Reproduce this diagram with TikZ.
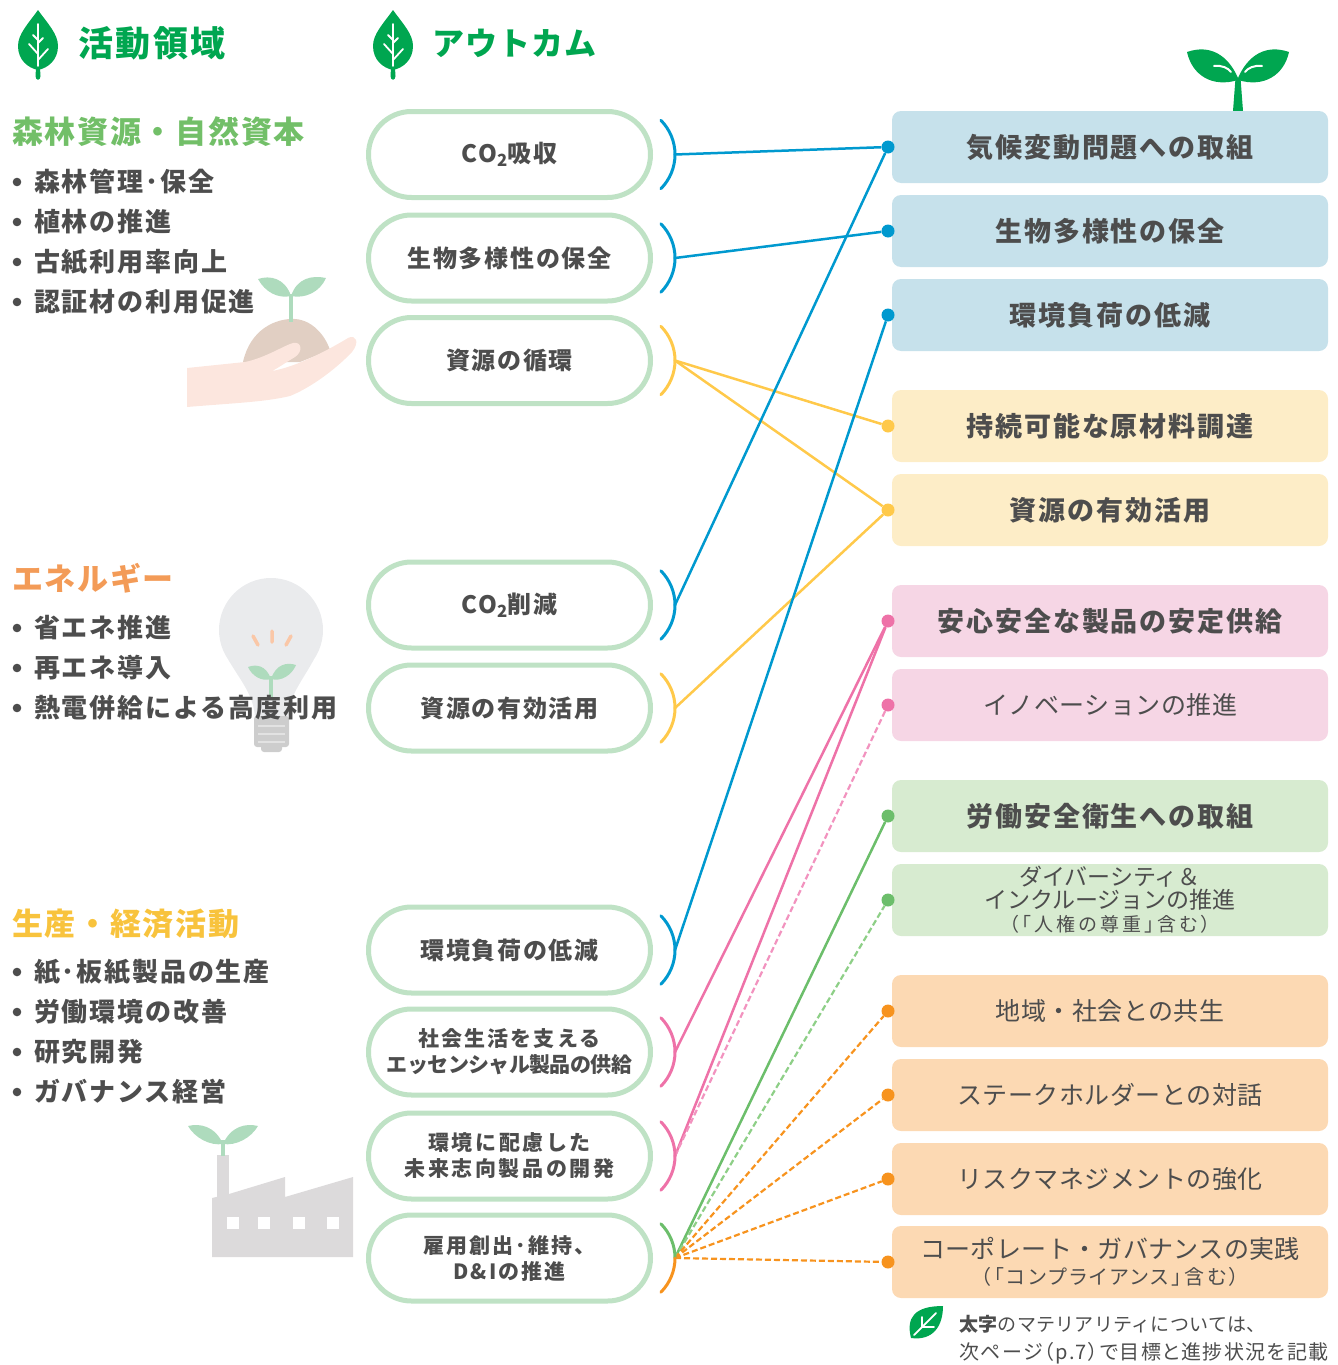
\documentclass[tikz,border=0pt]{standalone}
\usepackage{fontspec}
\setmainfont{Noto Sans CJK JP}
\usetikzlibrary{shapes.misc}

\definecolor{leafgreen}{HTML}{00A650}
\definecolor{ink}{HTML}{4D4D4D}
\definecolor{pillline}{HTML}{BFE2C5}
\definecolor{cblue}{HTML}{0099CF}
\definecolor{cyellow}{HTML}{FFC94A}
\definecolor{cpink}{HTML}{EE72A8}
\definecolor{cpinklt}{HTML}{F293BF}
\definecolor{cgreen}{HTML}{6CBE6B}
\definecolor{cgreenlt}{HTML}{8ECF87}
\definecolor{corange}{HTML}{F7931E}
\definecolor{fblue}{HTML}{C6E1EB}
\definecolor{fyellow}{HTML}{FDEDC7}
\definecolor{fpink}{HTML}{F6D6E5}
\definecolor{fgreen}{HTML}{D7EBD0}
\definecolor{forange}{HTML}{FCD9B3}
\definecolor{hforest}{HTML}{72BF68}
\definecolor{henergy}{HTML}{F39B57}
\definecolor{hprod}{HTML}{F8C33D}
\definecolor{sprout}{HTML}{AEDBBD}
\definecolor{soil}{HTML}{E1CFC3}
\definecolor{palm}{HTML}{FCE6DE}
\definecolor{bulb}{HTML}{EAEBED}
\definecolor{bulbbase}{HTML}{CDCDCD}
\definecolor{bulbline}{HTML}{E2E2E2}
\definecolor{ray}{HTML}{FAC7A7}
\definecolor{plant}{HTML}{DCDADB}

% size, baselineskip, letter spacing
\newcommand\fs[3]{\fontsize{#1}{#2}\selectfont\addfontfeature{LetterSpace=#3}}
% proportional punctuation and kana
\newcommand\prop{\addfontfeature{RawFeature=+palt}}

% bracket beside a pill: #1 y, #2 upper colour, #3 lower colour
\newcommand\brk[3]{%
  \draw[brack,#2] (660.9,#1-34.2) .. controls (669.9,#1-25.1) and (675,#1-12.8) .. (675,#1);
  \draw[brack,#3] (675,#1) .. controls (675,#1+12.8) and (669.9,#1+25.1) .. (660.9,#1+34.2);
}

% leaf emblem, apex at #1,#2
\newcommand\hleaf[2]{%
  \begin{scope}[shift={(#1,#2)}]
    \fill[leafgreen] (0,0) .. controls (10,14) and (20,24) .. (20,36)
      .. controls (20,50) and (10,58) .. (0,60)
      .. controls (-10,58) and (-20,50) .. (-20,36)
      .. controls (-20,24) and (-10,14) .. (0,0);
    \fill[leafgreen] (-2,58) -- (2,58) -- (2.5,66) .. controls (2.5,71) and (-2.5,71) .. (-2.5,66) -- cycle;
    \draw[white,line width=1.8pt,line cap=round] (0,14) -- (0,56)
      (0,44) -- (-9,34) (0,50) -- (10,39) (0,30) -- (-5,25) (0,33) -- (5,28);
  \end{scope}
}

\tikzset{
  pill/.style={rounded rectangle, draw=pillline, line width=5pt, fill=white,
    minimum width=282pt, minimum height=86pt, inner sep=0pt, align=center,
    text=ink, font=\bfseries\fs{24}{28}{7}},
  pilltwo/.style={pill, font=\bfseries\fs{21}{26}{10}},
  outbox/.style={rounded corners=9pt, minimum width=436pt, minimum height=72pt,
    inner sep=0pt, align=center, text=ink},
  outbold/.style={outbox, font=\bfseries\fs{27}{30}{7}},
  outreg/.style={outbox, font=\fs{25}{28}{2}},
  dotn/.style={circle, inner sep=0pt, minimum size=13pt},
  link/.style={line width=2.5pt},
  dashlink/.style={line width=2.2pt, dash pattern=on 6pt off 3pt},
  brack/.style={line width=3pt, line cap=round},
  headline/.style={anchor=west, inner sep=0pt, text=leafgreen},
  section/.style={anchor=west, inner sep=0pt, font=\bfseries\fs{31}{34}{5.5}},
  item/.style={anchor=west, inner sep=0pt, text=ink, font=\bfseries\fs{26}{28}{7}},
}

\begin{document}
\begin{tikzpicture}[x=1pt,y=-1pt]
\useasboundingbox (0,0) rectangle (1338,1365);

% ---------- illustrations ----------
% hand holding a sprouting seed
\fill[soil] (243,362) .. controls (250,330) and (275,318) .. (295,319)
  .. controls (312,320) and (325,335) .. (330,350) -- (300,362) -- cycle;
\draw[sprout,line width=4pt] (291,294) -- (291,322);
\fill[sprout] (291,296) .. controls (285,278) and (270,275) .. (258,279)
  .. controls (265,292) and (278,299) .. (291,296);
\fill[sprout] (291,296) .. controls (297,278) and (312,275) .. (326,278)
  .. controls (320,292) and (305,299) .. (291,296);
\fill[palm] (187,368) -- (245,362) .. controls (265,358) and (285,345) .. (293,343)
  .. controls (302,341) and (303,352) .. (295,357)
  .. controls (285,363) and (278,368) .. (272,371)
  .. controls (295,367) and (325,352) .. (348,338)
  .. controls (356,334) and (360,342) .. (352,352)
  .. controls (335,370) and (310,388) .. (290,396)
  .. controls (265,402) and (235,403) .. (187,407) -- cycle;

% light bulb with sprout
\fill[bulb] (271,630) circle[radius=52];
\fill[bulb] (228.5,660) .. controls (240,680) and (254,695) .. (255,718) -- (288,718)
  .. controls (289,695) and (303,680) .. (313.5,660) -- cycle;
\fill[bulbbase,rounded corners=3pt] (254,716) rectangle (289,747);
\fill[bulbbase,rounded corners=3pt] (261,744) rectangle (282,752);
\draw[bulbline,line width=2.5pt] (258,726) -- (285,726) (258,734) -- (285,734) (258,742) -- (285,742);
\draw[ray,line width=3.5pt,line cap=round] (253,636) -- (258,645) (272,631) -- (272,642) (291,636) -- (286,645);
\draw[sprout,line width=4pt] (271,676) -- (271,700);
\fill[sprout] (271,679) .. controls (266,665) and (256,664) .. (248,667)
  .. controls (252,676) and (262,682) .. (271,679);
\fill[sprout] (271,679) .. controls (276,664) and (287,662) .. (296,665)
  .. controls (292,675) and (281,682) .. (271,679);

% factory with sprout
\fill[plant] (217,1155) rectangle (229,1200);
\fill[plant] (212,1257) -- (212,1198) -- (229,1194) -- (285,1177) -- (285,1197)
  -- (353,1177) -- (353,1257) -- cycle;
\foreach \wx in {227,258,293,327}
  \fill[white] (\wx,1217) rectangle (\wx+12,1229);
\draw[sprout,line width=4pt] (223,1140) -- (223,1156);
\fill[sprout] (223,1144) .. controls (215,1126) and (200,1123) .. (188,1126)
  .. controls (195,1138) and (210,1146) .. (223,1144);
\fill[sprout] (223,1144) .. controls (231,1126) and (246,1123) .. (258,1126)
  .. controls (251,1138) and (236,1146) .. (223,1144);

% sprout above the outcome column
\fill[leafgreen] (1233,111) -- (1243,111) -- (1240.5,78) -- (1235.5,78) -- cycle;
\fill[leafgreen] (1238,78) .. controls (1228,55) and (1210,44) .. (1187,52)
  .. controls (1192,75) and (1212,88) .. (1238,80) -- cycle;
\fill[leafgreen] (1238,78) .. controls (1248,55) and (1266,44) .. (1289,52)
  .. controls (1284,75) and (1264,88) .. (1238,80) -- cycle;
\draw[white,line width=2pt,line cap=round] (1214,66) .. controls (1222,65) and (1228,68) .. (1231,72)
  (1262,66) .. controls (1254,65) and (1248,68) .. (1245,72);

% ---------- headings ----------
\hleaf{38}{10}
\node[headline,font=\bfseries\fs{35}{38}{7}] (hact) at (78,43) {活動領域};
\hleaf{393}{10}
\node[headline,font=\bfseries\fs{32}{36}{3}] (hout) at (432,43) {アウトカム};

% ---------- activity areas ----------
\foreach \yy in {182,222,262,302,628,668,708,972,1012,1052,1092}
  \fill[ink] (17,\yy) circle[radius=4.3];

\node[section,text=hforest] (s1) at (12,132) {森林資源・自然資本};
\node[item] (s1a) at (34,182) {森林管理･保全};
\node[item] (s1b) at (34,222) {植林の推進};
\node[item] (s1c) at (34,262) {古紙利用率向上};
\node[item] (s1d) at (34,302) {認証材の利用促進};

\node[section,text=henergy] (s2) at (12,578) {エネルギー};
\node[item] (s2a) at (34,628) {省エネ推進};
\node[item] (s2b) at (34,668) {再エネ導入};
\node[item] (s2c) at (34,708) {熱電併給による高度利用};

\node[section,text=hprod] (s3) at (12,924) {生産・経済活動};
\node[item] (s3a) at (34,972) {紙･板紙製品の生産};
\node[item] (s3b) at (34,1012) {労働環境の改善};
\node[item] (s3c) at (34,1052) {研究開発};
\node[item] (s3d) at (34,1092) {ガバナンス経営};

% ---------- outcome boxes ----------
\node[outbold,fill=fblue]   (o1)  at (1110,147)  {気候変動問題への取組};
\node[outbold,fill=fblue]   (o2)  at (1110,231)  {生物多様性の保全};
\node[outbold,fill=fblue]   (o3)  at (1110,315)  {環境負荷の低減};
\node[outbold,fill=fyellow] (o4)  at (1110,426)  {持続可能な原材料調達};
\node[outbold,fill=fyellow] (o5)  at (1110,510)  {資源の有効活用};
\node[outbold,fill=fpink]   (o6)  at (1110,621)  {安心安全な製品の安定供給};
\node[outreg,fill=fpink]    (o7)  at (1110,705)  {イノベーションの推進};
\node[outbold,fill=fgreen]  (o8)  at (1110,816)  {労働安全衛生への取組};
\node[outbox,fill=fgreen,font=\fs{23}{23}{0}] (o9) at (1110,900)
  {ダイバーシティ＆\\インクルージョンの推進\\{\fs{19}{23}{17}\prop（「人権の尊重」含む）}};
\node[outreg,fill=forange]  (o10) at (1110,1011) {地域・社会との共生};
\node[outreg,fill=forange]  (o11) at (1110,1095) {ステークホルダーとの対話};
\node[outreg,fill=forange]  (o12) at (1110,1179) {リスクマネジメントの強化};
\node[outbox,fill=forange,font=\fs{25}{26}{1.5}] (o13) at (1110,1262)
  {コーポレート・ガバナンスの実践\\{\fs{20}{26}{14}\prop（「コンプライアンス」含む）}};

% connection dots at the outcome boxes
\foreach \i/\yy/\cc in {1/147/cblue,2/231/cblue,3/315/cblue,4/426/cyellow,5/510/cyellow,
    6/621/cpink,7/705/cpink,8/816/cgreen,9/900/cgreen,10/1011/corange,
    11/1095/corange,12/1179/corange,13/1262/corange}
  \node[dotn,fill=\cc] (d\i) at (888,\yy) {};

% ---------- outcome pills ----------
\node[pill] (p1) at (509.5,154.5) {CO\textsubscript{2}吸収};
\node[pill] (p2) at (509.5,258) {生物多様性の保全};
\node[pill] (p3) at (509.5,360.5) {資源の循環};
\node[pill] (p4) at (509.5,605) {CO\textsubscript{2}削減};
\node[pill] (p5) at (509.5,708) {資源の有効活用};
\node[pill] (p6) at (509.5,950) {環境負荷の低減};
\node[pilltwo] (p7) at (509.5,1052) {社会生活を支える\\{\fs{21}{26}{-3}エッセンシャル製品の供給}};
\node[pilltwo,font=\bfseries\fs{21}{26}{12}] (p8) at (509.5,1156) {環境に配慮した\\未来志向製品の開発};
\node[pilltwo] (p9) at (509.5,1258) {雇用創出･維持、\\D\&Iの推進};

% bracket tips
\foreach \i/\yy in {1/154.5,2/258,3/360.5,4/605,5/708,6/950,7/1052,8/1156,9/1258}
  \coordinate (b\i) at (675,\yy);

% ---------- connectors ----------
\draw[link,cblue] (b1) -- (d1);
\draw[link,cblue] (b2) -- (d2);
\draw[link,cyellow] (b3) -- (d4);
\draw[link,cyellow] (b3) -- (d5);
\draw[link,cblue] (b4) -- (d1);
\draw[link,cyellow] (b5) -- (d5);
\draw[link,cblue] (b6) -- (d3);
\draw[link,cpink] (b7) -- (d6);
\draw[link,cpink] (b8) -- (d6);
\draw[dashlink,cpinklt] (b8) -- (d7);
\draw[link,cgreen] (b9) -- (d8);
\draw[dashlink,cgreenlt] (b9) -- (d9);
\foreach \k in {10,11,12,13}
  \draw[dashlink,corange] (b9) -- (d\k);

% brackets
\brk{154.5}{cblue}{cblue}
\brk{258}{cblue}{cblue}
\brk{360.5}{cyellow}{cyellow}
\brk{605}{cblue}{cblue}
\brk{708}{cyellow}{cyellow}
\brk{950}{cblue}{cblue}
\brk{1052}{cpink}{cpink}
\brk{1156}{cpink}{cpink}
\brk{1258}{cgreen}{corange}

% ---------- footnote ----------
\fill[leafgreen] (911,1338) .. controls (906,1318) and (914,1306) .. (943,1306)
  .. controls (943,1326) and (933,1341) .. (911,1338) -- cycle;
\draw[white,line width=1.8pt,line cap=round] (914,1335) -- (936,1313)
  (922,1327) -- (922,1317) (922,1327) -- (934,1327);
\node[anchor=west,inner sep=0pt,text=ink,font=\fs{19}{24}{1.5}] (note1) at (959,1324)
  {\textbf{太字}のマテリアリティについては、};
\node[anchor=west,inner sep=0pt,text=ink,font=\fs{20}{24}{7}\prop] (note2) at (959,1353)
  {次ページ（p.7）で目標と進捗状況を記載};
\end{tikzpicture}
\end{document}
